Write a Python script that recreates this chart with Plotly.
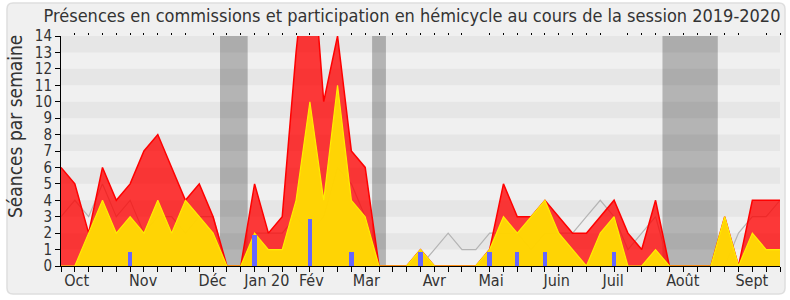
import plotly.graph_objects as go

# ---- data (weekly, session 2019-2020) ----
weeks = list(range(53))
presence_commission = [6, 5, 2, 6, 4, 5, 7, 8, 6, 4, 5, 3, 0, 0, 5, 2, 3, 13, 21, 10, 14, 7, 6, 0,
                       0, 0, 1, 0, 0, 0, 0, 1, 5, 3, 3, 4, 3, 2, 2, 3, 4, 2, 1, 4, 0, 0, 0, 0, 3, 0, 4, 4, 4]
participation_hemicycle = [0, 0, 2, 4, 2, 3, 2, 4, 2, 4, 3, 2, 0, 0, 2, 1, 1, 4, 10, 4, 11, 4, 3, 0,
                           0, 0, 1, 0, 0, 0, 0, 1, 3, 2, 3, 4, 2, 1, 0, 2, 3, 0, 0, 1, 0, 0, 0, 0, 3, 0, 2, 1, 1]
mediane_deputes = [3, 4, 3, 5, 3, 4, 2, 3, 3, 2, 3, 3, 0, 0, 2, 2, 2, 3, 2, 3, 6, 5, 3, 0,
                   0, 0, 0, 1, 2, 1, 1, 2, 2, 2, 1, 2, 2, 2, 3, 4, 3, 1, 2, 3, 0, 0, 0, 0, 0, 2, 3, 3, 4]
questions_weeks = [5, 14, 18, 21, 26, 31, 33, 35, 40]
questions_values = [0.85, 1.9, 2.85, 0.85, 0.87, 0.87, 0.87, 0.87, 0.87]
vacances = [(11.5, 13.5), (22.5, 23.5), (43.5, 47.5)]
month_labels = ["Oct", "Nov", "Déc", "Jan 20", "Fév", "Mar", "Avr", "Mai", "Juin", "Juil", "Août", "Sept"]
month_label_pos = [1.13, 5.94, 10.96, 14.89, 18.1, 22.09, 27.0, 31.1, 35.85, 39.93, 44.97, 49.96]

FONT = "DejaVu Sans Condensed, DejaVu Sans, sans-serif"
W, H = 790, 300
L, R, T, B = 61, 10, 36, 34
PW, PH = W - L - R, H - T - B


def px(x):
    return (x - L) / PW


def py(y):
    return (H - B - y) / PH


fig = go.Figure()

# median line (underneath the semi-transparent areas)
fig.add_trace(go.Scatter(x=weeks, y=mediane_deputes, mode="lines",
                         line=dict(color="#b4b4b4", width=1.2), hoverinfo="skip",
                         showlegend=False))
fig.add_trace(go.Scatter(x=weeks, y=presence_commission, mode="lines", fill="tozeroy",
                         fillcolor="rgba(255,0,0,0.77)", line=dict(color="#ff0000", width=1.5),
                         showlegend=False))
fig.add_trace(go.Scatter(x=weeks, y=participation_hemicycle, mode="lines", fill="tozeroy",
                         fillcolor="rgba(255,226,0,0.92)", line=dict(color="#ffee00", width=1.2),
                         showlegend=False))
# questions bars on an overlaying axis pair so they are drawn above the areas
fig.add_trace(go.Bar(x=questions_weeks, y=questions_values, width=0.31,
                     xaxis="x2", yaxis="y2",
                     marker=dict(color="#6666ff", line=dict(width=0)), showlegend=False))

shapes = []
# outer rounded frame
x0, x1, y0, y1, r = px(7), px(785), py(294), py(3), 6
rx, ry = r / PW, r / PH
path = (f"M {x0+rx},{y1} L {x1-rx},{y1} Q {x1},{y1} {x1},{y1-ry} L {x1},{y0+ry} "
        f"Q {x1},{y0} {x1-rx},{y0} L {x0+rx},{y0} Q {x0},{y0} {x0},{y0+ry} "
        f"L {x0},{y1-ry} Q {x0},{y1} {x0+rx},{y1} Z")
shapes.append(dict(type="path", xref="paper", yref="paper", path=path,
                   fillcolor="#f0f0f0", line=dict(color="#dedede", width=1.5), layer="below"))
# horizontal stripes
for k in range(1, 14, 2):
    shapes.append(dict(type="rect", xref="paper", yref="y", x0=0, x1=1, y0=k, y1=k + 1,
                       fillcolor="#e6e6e6", line=dict(width=0), layer="below"))
# vacation bands
for a, b in vacances:
    shapes.append(dict(type="rect", xref="x", yref="paper", x0=a, x1=b, y0=0, y1=1,
                       fillcolor="rgba(0,0,0,0.25)", line=dict(width=0), layer="below"))

fig.update_layout(
    width=W, height=H,
    margin=dict(l=L, r=R, t=T, b=B),
    paper_bgcolor="#ffffff",
    plot_bgcolor="#f9f9f9",
    shapes=shapes,
    bargap=0,
    font=dict(family=FONT, color="#333333", size=15),
    title=dict(text="Présences en commissions et participation en hémicycle au cours de la session 2019-2020",
               x=412 / W, xanchor="center", y=1 - 16 / H, yanchor="middle",
               font=dict(family=FONT, size=18, color="#333333")),
    xaxis=dict(range=[0, 52], showgrid=False, zeroline=False, showline=True,
               linecolor="#000000", linewidth=1,
               tickmode="array", tickvals=month_label_pos, ticktext=month_labels,
               ticks="", tickfont=dict(size=16, color="#333333", family=FONT),
               minor=dict(ticks="outside", dtick=1, tick0=0, ticklen=5,
                          tickcolor="#000000", tickwidth=1, showgrid=False)),
    xaxis2=dict(range=[0, 52], overlaying="x", side="top", anchor="y2",
                showgrid=False, zeroline=False, showline=False, showticklabels=False,
                ticks="", minor=dict(ticks="outside", dtick=1, tick0=0, ticklen=2,
                                     tickcolor="#000000", tickwidth=1, showgrid=False)),
    yaxis=dict(range=[0, 14], showgrid=False, zeroline=False, showline=True,
               linecolor="#000000", linewidth=1, dtick=1, tick0=0,
               ticks="outside", ticklen=5, tickcolor="#000000",
               tickfont=dict(size=15, color="#333333", family=FONT)),
    yaxis2=dict(range=[0, 14], overlaying="y", anchor="x2", visible=False,
                showgrid=False, zeroline=False),
    annotations=[dict(text="Séances par semaine", textangle=-90, xref="paper", yref="paper",
                      x=px(15), y=py(127), xanchor="center", yanchor="middle",
                      showarrow=False, font=dict(family=FONT, size=19, color="#333333"))],
)

fig.write_html("out.html")
